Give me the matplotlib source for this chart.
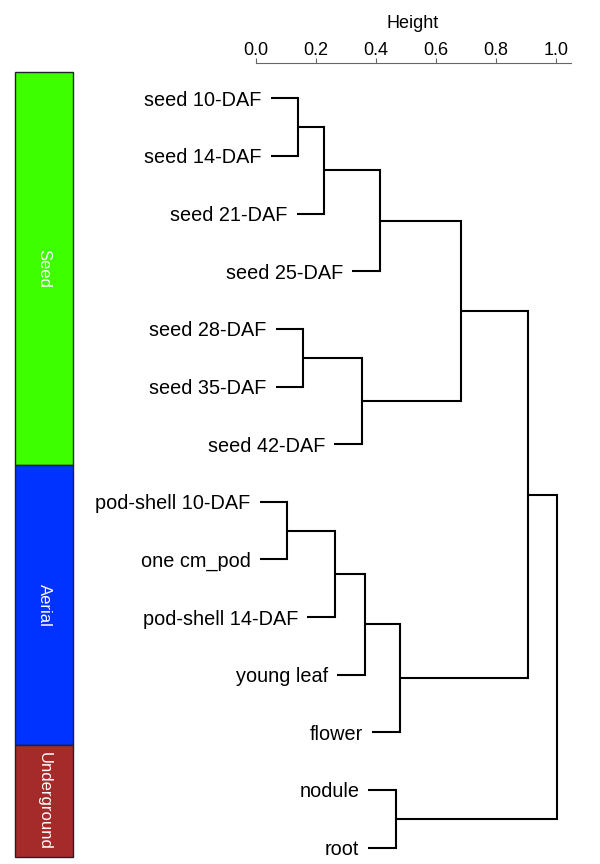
import numpy as np
import matplotlib.pyplot as plt
from matplotlib.patches import Rectangle

# leaf labels, top to bottom
labels = ["seed 10-DAF", "seed 14-DAF", "seed 21-DAF", "seed 25-DAF",
          "seed 28-DAF", "seed 35-DAF", "seed 42-DAF",
          "pod-shell 10-DAF", "one cm_pod", "pod-shell 14-DAF",
          "young leaf", "flower", "nodule", "root"]

# R-style merge table: negative = leaf (1-based), positive = earlier merge step
merge_left = [-8, -1, -5, 2, 1, 3, 5, 4, -13, 7, 8, 11, 12]
merge_right = [-9, -2, -6, -3, -10, -7, -11, -4, -14, -12, 6, 10, 9]
merge_height = [0.106, 0.143, 0.159, 0.229, 0.265, 0.354, 0.365,
                0.415, 0.468, 0.481, 0.685, 0.909, 1.005]

# tissue groups for the side bar
groups = ["Seed", "Aerial", "Underground"]
group_counts = [7, 5, 2]
group_colors = ["#3dff00", "#0033ff", "#a52a2a"]

plt.rcParams['font.family'] = ['Liberation Sans', 'DejaVu Sans']

W, H = 600, 864
fig = plt.figure(figsize=(W / 100, H / 100), dpi=100)

# dendrogram axes
top_px, bot_px = 63, 857.3
leaf0_px, leaf_step = 98.3, 57.64
ax = fig.add_axes([255.5 / W, 1 - bot_px / H, 315.2 / W, (bot_px - top_px) / H])
ax.set_xlim(0, 1.05)
ax.set_ylim((bot_px - leaf0_px) / leaf_step, (top_px - leaf0_px) / leaf_step)

hang = 0.092
lw = 1.5
node_y = {}
for i, (a, b, h) in enumerate(zip(merge_left, merge_right, merge_height), start=1):
    ys = []
    for c in (a, b):
        if c < 0:
            y = -c - 1
            x0 = h - hang
            ax.text(x0 - 0.03, y, labels[y], ha='right', va='center_baseline',
                    fontsize=14.3, clip_on=False)
        else:
            y = node_y[c]
            x0 = merge_height[c - 1]
        ax.plot([x0, h], [y, y], color='black', lw=lw, solid_capstyle='butt',
                clip_on=False)
        ys.append(y)
    ax.plot([h, h], ys, color='black', lw=lw, solid_capstyle='projecting',
            clip_on=False)
    node_y[i] = np.mean(ys)

for s in ['left', 'right', 'bottom']:
    ax.spines[s].set_visible(False)
ax.spines['top'].set_color('#666666')
ax.spines['top'].set_linewidth(0.8)
ax.spines['top'].set_bounds(0, 1.05)
ax.xaxis.set_ticks_position('top')
ax.xaxis.set_label_position('top')
ax.set_xticks(np.arange(0, 1.01, 0.2))
ax.set_xticklabels([f"{v:.1f}" for v in np.arange(0, 1.01, 0.2)])
ax.tick_params(axis='x', direction='out', length=3.3, width=0.8,
               color='#666666', labelsize=13, pad=-0.5)
ax.set_xlabel('Height', fontsize=13, labelpad=10)
ax.set_yticks([])

# side bar with groups
bar_top = 72.3
bax = fig.add_axes([14.7 / W, 1 - bot_px / H, 58.6 / W, (bot_px - bar_top) / H])
bax.set_xlim(0, 1)
bax.set_ylim(sum(group_counts), 0)
bax.axis('off')
start = 0
for name, n, col in zip(groups, group_counts, group_colors):
    bax.add_patch(Rectangle((0, start), 1, n, facecolor=col, edgecolor='#222222',
                            lw=1.0, clip_on=False))
    bax.text(0.5, start + n / 2, name, rotation=270, ha='center', va='center',
             color='white', fontsize=12)
    start += n

fig.savefig('out.png', dpi=100)
